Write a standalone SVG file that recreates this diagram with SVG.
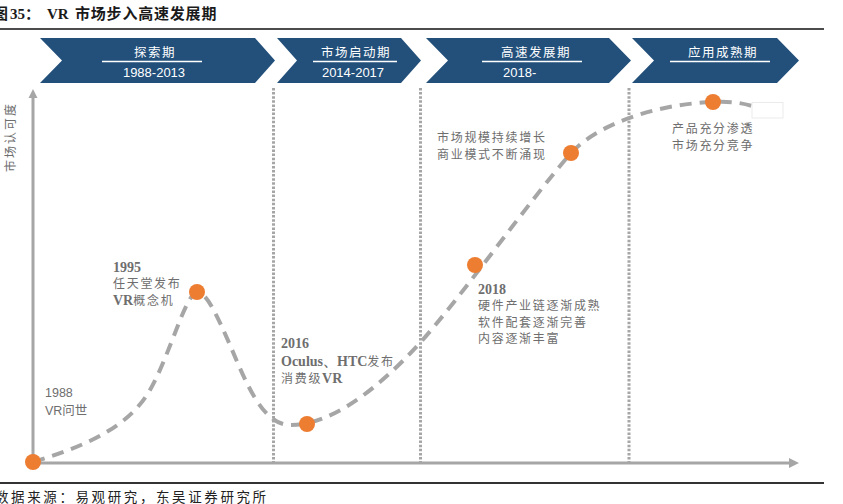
<svg xmlns="http://www.w3.org/2000/svg" width="843" height="504" viewBox="0 0 843 504">
<defs>
<style>
.chev{fill:#22507b}
.ct{fill:#fff;font-family:"Noto Sans CJK SC","Liberation Sans",sans-serif;font-size:12.5px;letter-spacing:1.5px;text-anchor:middle}
.cy{fill:#fff;font-family:"Liberation Sans",Arial,sans-serif;font-size:13px}
.ul{stroke:#fff;stroke-width:1.5}
.vdot{stroke:#a6a6a6;stroke-width:3;stroke-dasharray:2.5 1.6;fill:none}
.axis{stroke:#a6a6a6;stroke-width:3;fill:none}
.ah{fill:#a6a6a6}
.curve{stroke:#a6a6a6;stroke-width:4;stroke-dasharray:12 8;fill:none}
.dot{fill:#ed7d31}
.lbl{fill:#6e6e6e;font-family:"Noto Sans CJK SC","Liberation Sans",sans-serif;font-size:12px;letter-spacing:1.7px}
.yr{fill:#6e6e6e;font-family:"Liberation Serif","Times New Roman",serif;font-size:14px;font-weight:bold}
.sans{fill:#6e6e6e;font-family:"Liberation Sans","Noto Sans CJK SC",sans-serif;font-size:12.5px}
</style>
</defs>

<g id="title">
<text y="19" font-family="Liberation Serif,Noto Sans CJK SC,serif" font-size="15" font-weight="bold" fill="#1a1a1a"><tspan x="-7" font-family="Noto Sans CJK SC,sans-serif">图</tspan><tspan x="10">35：</tspan><tspan x="47">VR</tspan><tspan x="75" font-family="Noto Sans CJK SC,sans-serif" letter-spacing="0.8">市场步入高速发展期</tspan></text>
<line x1="0" y1="29" x2="824" y2="29" stroke="#111" stroke-width="1.6"/>
</g>

<g id="phase1">
<polygon class="chev" points="40,38 255,38 275,60.5 255,83 40,83 62,60.5"/>
<text class="ct" x="155" y="57">探索期</text>
<line class="ul" x1="102" y1="61.5" x2="202" y2="61.5"/>
<text class="cy" x="154" y="77" text-anchor="middle">1988-2013</text>
</g>
<g id="phase2">
<polygon class="chev" points="277,38 401,38 421,60.5 401,83 277,83 297,60.5"/>
<text class="ct" x="356" y="57">市场启动期</text>
<line class="ul" x1="313" y1="61.5" x2="397" y2="61.5"/>
<text class="cy" x="353" y="77" text-anchor="middle">2014-2017</text>
</g>
<g id="phase3">
<polygon class="chev" points="426,38 609,38 631,60.5 609,83 426,83 448,60.5"/>
<text class="ct" x="536" y="57">高速发展期</text>
<line class="ul" x1="482" y1="61.5" x2="582" y2="61.5"/>
<text class="cy" x="503" y="77">2018-</text>
</g>
<g id="phase4">
<polygon class="chev" points="632,38 777,38 799,60.5 777,83 632,83 654,60.5"/>
<text class="ct" x="723" y="57">应用成熟期</text>
<line class="ul" x1="670" y1="61.5" x2="770" y2="61.5"/>
</g>

<g id="dividers">
<line class="vdot" x1="273.5" y1="88" x2="273.5" y2="462"/>
<line class="vdot" x1="420.5" y1="88" x2="420.5" y2="462"/>
<line class="vdot" x1="629" y1="88" x2="629" y2="462"/>
</g>

<g id="axes">
<line class="axis" x1="33" y1="463" x2="33" y2="96"/>
<polygon class="ah" points="33,89 28.5,98 37.5,98"/>
<line class="axis" x1="33" y1="463" x2="790" y2="463"/>
<polygon class="ah" points="799,463 789,458 789,468"/>
<text transform="translate(15,137) rotate(-90)" text-anchor="middle" fill="#6e6e6e" font-family="Noto Sans CJK SC,sans-serif" font-size="12" letter-spacing="2">市场认可度</text>
</g>

<g id="connectors">
<path class="curve" d="M33,462 C90,445 130,425 150,390 C170,355 185,295 197,292 C207,292 218,318 230,345 C245,380 262,425 290,425 C330,425 375,392 420,343 C465,292 530,200 571,153 C600,122 660,104 713,102 C730,101 742,103 752,106"/>
</g>
<rect id="patch" x="752" y="102.5" width="31" height="15.5" fill="#fff" stroke="#e6e6e6" stroke-width="0.8"/>

<g id="n1988">
<circle class="dot" cx="33" cy="462" r="8"/>
<text class="sans" x="45" y="397">1988</text>
<text class="sans" x="45" y="415">VR问世</text>
</g>
<g id="n1995">
<circle class="dot" cx="197" cy="292" r="8"/>
<text class="yr" x="113" y="272">1995</text>
<text class="lbl" x="113" y="288">任天堂发布</text>
<text class="lbl" x="113" y="305"><tspan class="yr" style="letter-spacing:0">VR</tspan>概念机</text>
</g>
<g id="n2016">
<circle class="dot" cx="307" cy="424" r="8"/>
<text class="yr" x="281" y="348">2016</text>
<text class="lbl" x="281" y="366"><tspan class="yr" style="letter-spacing:0">Oculus、HTC</tspan>发布</text>
<text class="lbl" x="281" y="383">消费级<tspan class="yr" style="letter-spacing:0">VR</tspan></text>
</g>
<g id="n2018">
<circle class="dot" cx="475" cy="265" r="8"/>
<text class="yr" x="478" y="294">2018</text>
<text class="lbl" x="478" y="310">硬件产业链逐渐成熟</text>
<text class="lbl" x="478" y="327">软件配套逐渐完善</text>
<text class="lbl" x="478" y="343">内容逐渐丰富</text>
</g>
<g id="ngrowth">
<circle class="dot" cx="571" cy="153" r="8"/>
<text class="lbl" x="437" y="142">市场规模持续增长</text>
<text class="lbl" x="437" y="159">商业模式不断涌现</text>
</g>
<g id="nmature">
<circle class="dot" cx="713" cy="102" r="8"/>
<text class="lbl" x="672" y="133">产品充分渗透</text>
<text class="lbl" x="672" y="150">市场充分竞争</text>
</g>

<g id="footer">
<line x1="0" y1="483" x2="824" y2="483" stroke="#333" stroke-width="2"/>
<text x="-5" y="502" fill="#222" font-family="Noto Sans CJK SC,sans-serif" font-size="13.5" letter-spacing="2.6">数据来源：易观研究，东吴证券研究所</text>
</g>
</svg>
